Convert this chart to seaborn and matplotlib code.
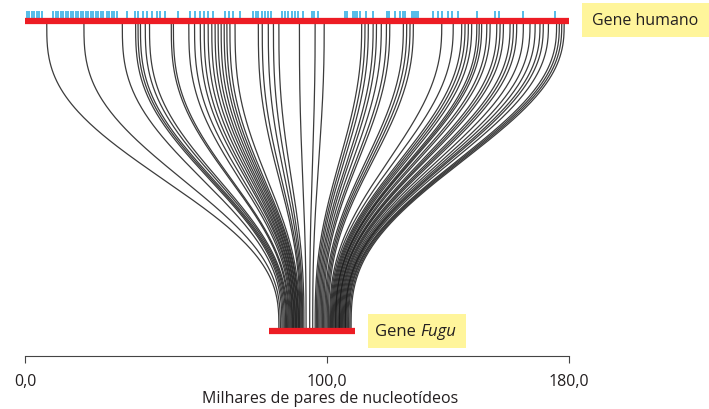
import numpy as np
import pandas as pd
import matplotlib
matplotlib.use("Agg")
import matplotlib.pyplot as plt
from matplotlib.patches import Rectangle
import seaborn as sns

# gene extents, kb
HUMAN_SPAN = (0.0, 180.0)
FUGU_SPAN = (80.7, 109.3)

# exon ticks on the human gene, kb
human_exons = [
    0.8, 1.4, 2.2, 3.0, 3.9, 4.7, 5.5,
    9.4, 10.3, 11.0, 11.8, 12.7, 13.6, 14.3, 15.1, 16.0, 16.9, 17.6, 18.4,
    19.3, 20.2, 20.9, 21.7, 22.6, 23.5, 24.3, 25.0, 25.9, 27.0, 27.9, 28.7,
    29.5, 30.3,
    33.7, 36.4, 37.5, 39.1, 40.3, 41.9, 43.6, 44.7, 46.3, 50.7,
    54.6, 56.3, 57.9, 59.2, 60.7, 62.3, 66.2, 67.6, 68.9, 71.1,
    75.5, 76.4, 77.2, 78.3, 79.4, 80.5, 81.3,
    84.9, 86.0, 87.1, 88.3, 89.3, 90.4, 91.9, 94.9, 95.6, 97.1,
    105.9, 106.5, 108.4, 109.2, 110.0, 110.9, 112.8, 115.1, 119.7, 120.6,
    122.4, 124.1, 125.0, 125.7, 128.0, 128.7, 129.4, 130.1,
    135.1, 136.8, 138.1, 139.9, 141.4, 143.2, 149.5, 155.5, 157.0, 164.9, 175.4,
]

# conserved links: position on the human gene -> position on the Fugu gene, kb
link_human = [
    7.2, 19.5, 32.2, 36.6, 37.4, 38.2, 39.8, 41.2, 48.4, 49.1, 54.2, 56.1,
    58.0, 59.3, 60.6, 61.8, 62.9, 63.9, 64.9, 65.9, 66.8, 67.8, 69.5, 77.2,
    78.5, 80.5, 82.2, 84.0,
    90.8, 96.0, 99.0,
    111.4, 112.5, 113.6, 115.2, 116.3, 117.9, 119.6, 120.7, 125.2, 126.3,
    127.4, 128.5,
    137.9, 141.7, 144.5, 145.6, 146.7, 147.8, 149.5, 151.1, 152.8, 153.9,
    156.1, 158.3, 160.5, 161.6, 162.7, 164.9, 167.1, 168.8, 171.5, 173.2,
    175.9, 176.8, 177.6, 178.4, 170.4, 157.2, 150.3,
]
link_fugu = [
    84.0, 84.5, 85.0, 85.4, 85.8, 86.2, 86.5, 86.8, 87.1, 87.4, 87.7, 88.0,
    88.3, 88.5, 88.8, 89.0, 89.3, 89.5, 89.8, 90.0, 90.3, 90.5, 90.8, 91.0,
    91.3, 91.6, 91.9, 92.3,
    93.0, 94.2, 95.2,
    96.0, 96.4, 96.8, 97.2, 97.6, 98.0, 98.4, 98.8, 99.2, 99.6,
    100.0, 100.4,
    100.8, 101.1, 101.4, 101.7, 102.0, 102.3, 102.6, 102.9, 103.2, 103.5,
    103.8, 104.1, 104.4, 104.7, 105.0, 105.3, 105.6, 105.9, 106.2, 106.5,
    106.8, 107.1, 107.5, 107.9, 106.0, 104.0, 102.8,
]

tick_pos = [0, 100, 180]
tick_labels = ["0,0", "100,0", "180,0"]

Y_HUMAN = 335
Y_FUGU = 25

# build curves (smootherstep in x between the two genes);
# links coming from the right bend a little earlier than those from the left
t = np.linspace(0, 1, 160)
rows = []
for i, (h, f) in enumerate(zip(link_human, link_fugu)):
    u = t ** (0.9 if h > f else 1.03)
    s = 6 * u**5 - 15 * u**4 + 10 * u**3
    x = h + (f - h) * s
    y = (Y_HUMAN - 3) - t * ((Y_HUMAN - 3) - (Y_FUGU + 3))
    rows.append(pd.DataFrame({"x": x, "y": y, "link": i}))
df = pd.concat(rows, ignore_index=True)

sns.set_style("white")
plt.rcParams['font.family'] = ['Open Sans', 'DejaVu Sans']
TXT = "#231f20"

fig = plt.figure(figsize=(7.09, 4.10), dpi=100)
ax = fig.add_axes([25 / 709, 53 / 410, 544 / 709, 352 / 410])

sns.lineplot(data=df, x="x", y="y", units="link", estimator=None, sort=False,
             color="#1a1a1a", lw=0.9, alpha=0.85, legend=False, ax=ax)

ax.vlines(human_exons, Y_HUMAN, Y_HUMAN + 10, color="#27aae1", lw=1.1)
ax.hlines(Y_HUMAN, *HUMAN_SPAN, color="#ed1c24", lw=4.5)
ax.hlines(Y_FUGU, *FUGU_SPAN, color="#ed1c24", lw=4.5)

ax.set_xlim(0, 180)
ax.set_ylim(0, 352)
ax.set_xticks(tick_pos)
ax.set_xticklabels(tick_labels)
ax.set_yticks([])
ax.tick_params(axis="x", bottom=True, direction="out", length=5, width=0.8,
               color="#444444", labelsize=11.5, labelcolor=TXT, pad=7)
sns.despine(ax=ax, left=True)
ax.spines["bottom"].set_color("#444444")
ax.spines["bottom"].set_linewidth(0.8)
ax.set_xlabel("Milhares de pares de nucleotídeos", fontsize=11.5, color=TXT)
ax.xaxis.set_label_coords((330 - 25) / 544, -0.098)
ax.set_ylabel("")

# label boxes
fig.patches.append(Rectangle((582 / 709, (410 - 38) / 410), 127 / 709, 34 / 410,
                             transform=fig.transFigure, fc="#fff59b", ec="none"))
fig.text(592 / 709, 1 - 21 / 410, "Gene humano", fontsize=11.5, color=TXT,
         ha="left", va="center")
fig.patches.append(Rectangle((368 / 709, (410 - 349) / 410), 98 / 709, 34 / 410,
                             transform=fig.transFigure, fc="#fff59b", ec="none"))
fig.text(375 / 709, 1 - 332 / 410, "Gene", fontsize=12, color=TXT,
         ha="left", va="center")
fig.text(420 / 709, 1 - 332 / 410, "Fugu", fontsize=12, color=TXT,
         ha="left", va="center", style="italic")

fig.savefig("out.png", dpi=100)
plt.close(fig)
